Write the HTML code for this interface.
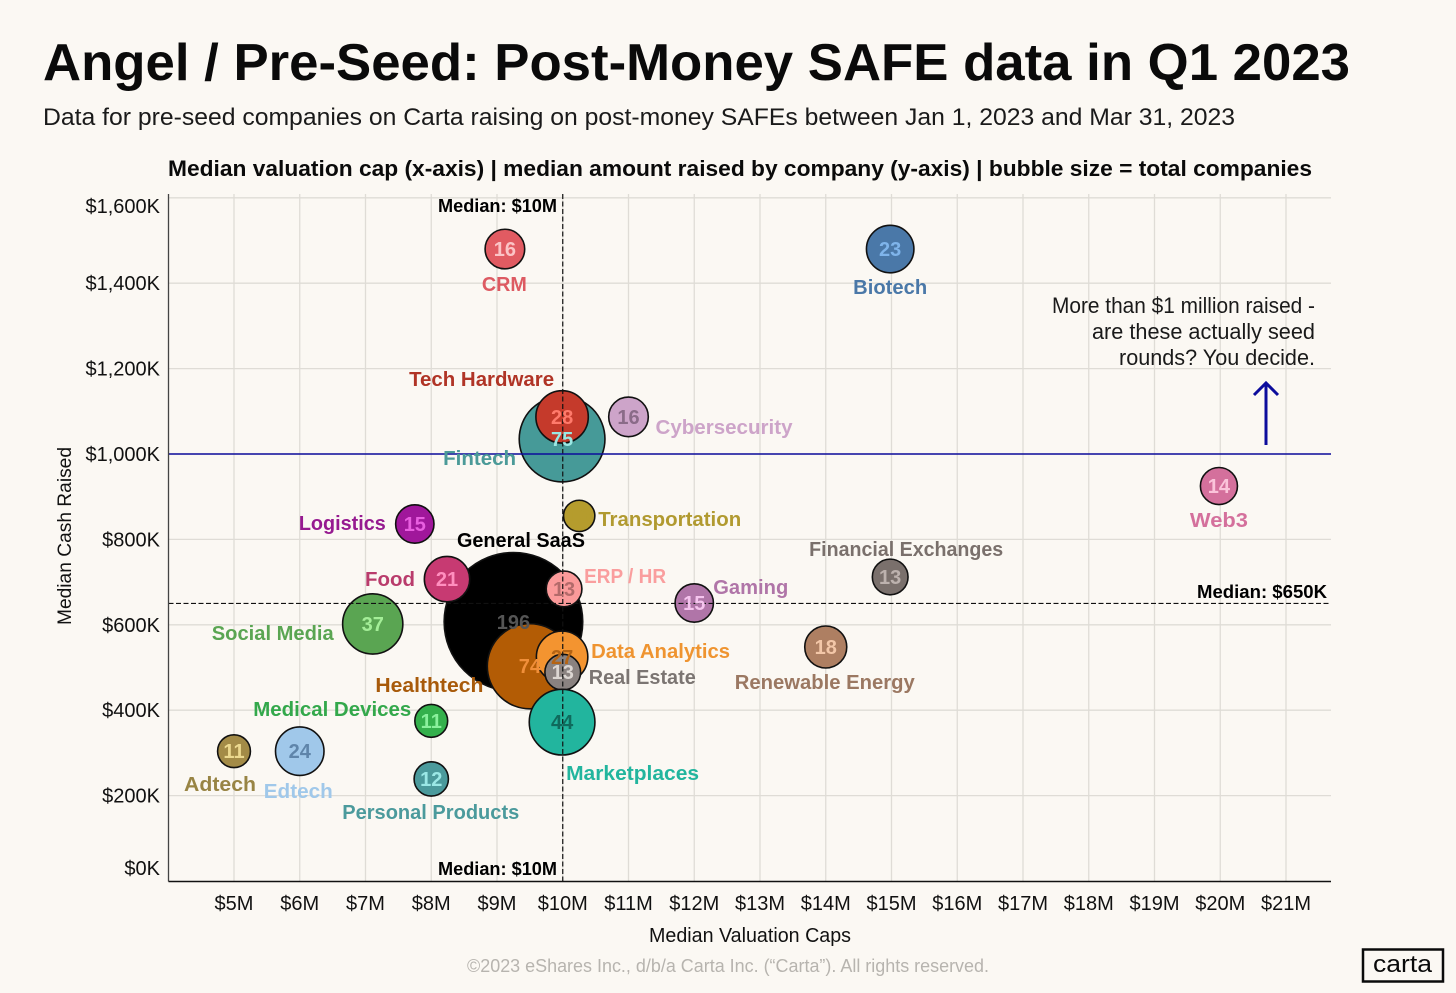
<!DOCTYPE html>
<html lang="en">
<head>
<meta charset="utf-8">
<title>Angel / Pre-Seed: Post-Money SAFE data in Q1 2023</title>
<style>
  html, body { margin: 0; padding: 0; background: #fbf8f3; }
  body { width: 1456px; height: 993px; overflow: hidden; }
  svg { display: block; font-family: "Liberation Sans", sans-serif; }
</style>
</head>
<body>
<svg id="chart" width="1456" height="993" viewBox="0 0 1456 993" xmlns="http://www.w3.org/2000/svg">
  <rect x="0" y="0" width="1456" height="993" fill="#fbf8f3"/>
  <text x="43" y="80" font-size="52" font-weight="700" fill="#0a0a0a" textLength="1307" lengthAdjust="spacingAndGlyphs">Angel / Pre-Seed: Post-Money SAFE data in Q1 2023</text>
  <text x="43" y="125" font-size="24" fill="#1a1a1a" textLength="1192" lengthAdjust="spacingAndGlyphs">Data for pre-seed companies on Carta raising on post-money SAFEs between Jan 1, 2023 and Mar 31, 2023</text>
  <text x="168" y="176" font-size="22" font-weight="700" fill="#0a0a0a" textLength="1144" lengthAdjust="spacingAndGlyphs">Median valuation cap (x-axis) | median amount raised by company (y-axis) | bubble size = total companies</text>

  <g id="grid"></g>
  <g id="marks"></g>
  <g id="refs"></g>
  <g id="counts"></g>
  <g id="labels"></g>
  <g id="axes"></g>

  <text x="649" y="942" font-size="20" fill="#111" textLength="202" lengthAdjust="spacingAndGlyphs">Median Valuation Caps</text>
  <text transform="translate(71 625) rotate(-90)" font-size="19" fill="#111" textLength="178" lengthAdjust="spacingAndGlyphs">Median Cash Raised</text>

  <text x="438" y="212" font-size="18" font-weight="700" fill="#000" textLength="119" lengthAdjust="spacingAndGlyphs">Median: $10M</text>
  <text x="438" y="875" font-size="18" font-weight="700" fill="#000" textLength="119" lengthAdjust="spacingAndGlyphs">Median: $10M</text>
  <text x="1197" y="598" font-size="18" font-weight="700" fill="#000" textLength="130" lengthAdjust="spacingAndGlyphs">Median: $650K</text>

  <g font-size="22" fill="#1a1a1a">
    <text x="1052" y="313" textLength="263" lengthAdjust="spacingAndGlyphs">More than $1 million raised -</text>
    <text x="1092" y="339" textLength="223" lengthAdjust="spacingAndGlyphs">are these actually seed</text>
    <text x="1119" y="365" textLength="196" lengthAdjust="spacingAndGlyphs">rounds? You decide.</text>
  </g>
  <g fill="none" stroke="#0c0c9c" stroke-width="3">
    <line x1="1266" y1="445" x2="1266" y2="384"/>
    <polyline points="1254,395 1266,383 1278,395"/>
  </g>

  <text x="467" y="972" font-size="18" fill="#b7b4af" textLength="522" lengthAdjust="spacingAndGlyphs">©2023 eShares Inc., d/b/a Carta Inc. (“Carta”). All rights reserved.</text>
  <g>
    <rect x="1363" y="949.5" width="80" height="32" fill="none" stroke="#0a0a0a" stroke-width="2.5"/>
    <text x="1373" y="972" font-size="24" fill="#0a0a0a" textLength="59" lengthAdjust="spacingAndGlyphs">carta</text>
  </g>
</svg>

<script>
// ---- Chart data ----
const categories = ["Adtech", "Edtech", "Personal Products", "Medical Devices", "Social Media", "Logistics", "CRM", "Biotech", "Fintech", "Tech Hardware", "Cybersecurity", "Transportation", "Web3", "Financial Exchanges", "Gaming", "Renewable Energy", "General SaaS", "Food", "ERP / HR", "Healthtech", "Data Analytics", "Real Estate", "Marketplaces"];
const valuationCaps = [5, 6, 8, 8, 7.11, 7.75, 9.12, 14.98, 9.99, 9.99, 11, 10.25, 19.98, 14.98, 12, 14, 9.25, 8.24, 10.02, 9.5, 9.99, 10, 9.99];
const cashRaised = [304, 304, 239, 375, 602, 836, 1480, 1480, 1035, 1087, 1087, 855, 925, 712, 651, 548, 607, 707, 684, 503, 525, 489, 372];
const companyCounts = [11, 24, 12, 11, 37, 15, 16, 23, 75, 28, 16, 10, 14, 13, 15, 18, 196, 21, 13, 74, 27, 13, 44];
const xTickValues = [5, 6, 7, 8, 9, 10, 11, 12, 13, 14, 15, 16, 17, 18, 19, 20, 21];
const xTickLabels = ["$5M", "$6M", "$7M", "$8M", "$9M", "$10M", "$11M", "$12M", "$13M", "$14M", "$15M", "$16M", "$17M", "$18M", "$19M", "$20M", "$21M"];
const yTickValues = [0, 200, 400, 600, 800, 1000, 1200, 1400, 1600];
const yTickLabels = ["$0K", "$200K", "$400K", "$600K", "$800K", "$1,000K", "$1,200K", "$1,400K", "$1,600K"];
const medianValuation = 10;
const medianCash = 650;
const thresholdCash = 1000;

// ---- Style and layout (keyed by category) ----
const seriesStyle = {
  "Adtech": ["#a38b47", "#ecd98f", "#988444"],
  "Edtech": ["#a0c8ea", "#5f85aa", "#a0c8ea"],
  "Personal Products": ["#4b9a9c", "#9be8e6", "#4b9a9c"],
  "Medical Devices": ["#34b04c", "#8af09c", "#33a84b"],
  "Social Media": ["#5aa552", "#a4ee98", "#5aa552"],
  "Logistics": ["#a0179b", "#e85fe0", "#961a90"],
  "CRM": ["#e15b62", "#fbc4c6", "#dd5a62"],
  "Biotech": ["#4a78a8", "#7fb4ea", "#4a78a8"],
  "Fintech": ["#469a98", "#9be8e4", "#4b9a98"],
  "Tech Hardware": ["#c53a2b", "#ff7a6b", "#b03426"],
  "Cybersecurity": ["#cda4c9", "#8a6b88", "#cda4c9"],
  "Transportation": ["#b59c2d", "#b59c2d", "#b19a30"],
  "Web3": ["#d4709c", "#fbc4da", "#d4709c"],
  "Financial Exchanges": ["#7a706c", "#bdb2ae", "#7a706c"],
  "Gaming": ["#b075a8", "#f5c4ee", "#b075a8"],
  "Renewable Energy": ["#ae7f62", "#f3c7a8", "#9b7862"],
  "General SaaS": ["#000000", "#555555", "#000000"],
  "Food": ["#c73a72", "#ff8fbf", "#b93c6c"],
  "ERP / HR": ["#fb9a9a", "#b36a6a", "#fa9e9e"],
  "Healthtech": ["#b35c05", "#f08f3a", "#a85a0a"],
  "Data Analytics": ["#f39430", "#b56414", "#ef9430"],
  "Real Estate": ["#8a8280", "#dcd6d2", "#7b7572"],
  "Marketplaces": ["#22b59e", "#0f6a5c", "#22b59e"]
};
const labelLayout = {
  "Adtech": [-50, 40, 72],
  "Edtech": [-36, 47, 69],
  "Personal Products": [-89, 40, 177],
  "Medical Devices": [-178, -5, 158],
  "Social Media": [-161, 16, 122],
  "Logistics": [-116, 6, 87],
  "CRM": [-23, 42, 45],
  "Biotech": [-37, 45, 74],
  "Fintech": [-119, 26, 73],
  "Tech Hardware": [-153, -31, 145],
  "Cybersecurity": [27, 17, 137],
  "Transportation": [19, 10, 143],
  "Web3": [-29, 41, 58],
  "Financial Exchanges": [-81, -21, 194],
  "Gaming": [19, -9, 75],
  "Renewable Energy": [-91, 42, 180],
  "General SaaS": [-56.5, -75, 128],
  "Food": [-82, 7, 50],
  "ERP / HR": [20, -6, 82],
  "Healthtech": [-154.5, 26, 108],
  "Data Analytics": [29, 1, 139],
  "Real Estate": [26, 12, 107],
  "Marketplaces": [4, 58, 133]
};

// ---- Axis functions ----
const xScale = function (v) { return 234 + 65.75 * (v - 5); };
const yScale = function (v) { return 881 - 0.427 * v; };
const rScale = function (n) { return 4.95 * Math.sqrt(n); };
const slug = function (s) { return s.toLowerCase().replace(/[^a-z0-9]+/g, '-').replace(/^-|-$/g, ''); };

const NS = 'http://www.w3.org/2000/svg';
function make(parent, tag, attrs, text) {
  const el = document.createElementNS(NS, tag);
  Object.keys(attrs).forEach(function (k) { el.setAttribute(k, attrs[k]); });
  if (text !== undefined) el.textContent = text;
  parent.appendChild(el);
  return el;
}

const plotLeft = 168.5, plotRight = 1331, plotTop = 194, plotBottom = 881.5;
const grid = document.getElementById('grid');
const axes = document.getElementById('axes');
const marks = document.getElementById('marks');
const refs = document.getElementById('refs');
const counts = document.getElementById('counts');
const labels = document.getElementById('labels');

// Grid and tick labels
xTickValues.forEach(function (v, i) {
  const line = make(grid, 'line', { x1: xScale(v), x2: xScale(v), y1: plotTop, y2: plotBottom, stroke: '#dfdcd6', 'stroke-width': 1.3 });
  
  
  const t = make(axes, 'text', { x: xScale(v), y: 910, 'font-size': 20, fill: '#111', 'text-anchor': 'middle' }, xTickLabels[i]);
  
  
});
yTickValues.forEach(function (v, i) {
  if (v > 0) {
    const line = make(grid, 'line', { x1: plotLeft, x2: plotRight, y1: yScale(v), y2: yScale(v), stroke: '#dfdcd6', 'stroke-width': 1.3 });
    
    
  }
  const nudge = i === 0 ? -13 : (i === yTickValues.length - 1 ? 8 : 0);
  const t = make(axes, 'text', { x: 160, y: yScale(v) + 7 + nudge, 'font-size': 20, fill: '#111', 'text-anchor': 'end' }, yTickLabels[i]);
  
  
});

// Axis lines
const yAxisLine = make(axes, 'line', { x1: plotLeft, x2: plotLeft, y1: plotTop, y2: plotBottom, stroke: '#444', 'stroke-width': 1.3 });


const xAxisLine = make(axes, 'line', { x1: plotLeft, x2: plotRight, y1: plotBottom, y2: plotBottom, stroke: '#111', 'stroke-width': 1.5 });



// Bubbles, counts and labels
categories.forEach(function (name, i) {
  const cx = xScale(valuationCaps[i]);
  const cy = yScale(cashRaised[i]);
  const style = seriesStyle[name];
  const layout = labelLayout[name];
  const key = slug(name);

  const c = make(marks, 'circle', { cx: cx, cy: cy, r: rScale(companyCounts[i]), fill: style[0], stroke: '#111', 'stroke-width': 1.6 });
  
  

  const n = make(counts, 'text', { x: cx, y: cy + 7, 'font-size': 20, 'font-weight': 700, fill: style[1], 'text-anchor': 'middle' }, companyCounts[i]);
  
  

  const l = make(labels, 'text', { x: cx + layout[0], y: cy + layout[1], 'font-size': 20, 'font-weight': 700, fill: style[2], textLength: layout[2], lengthAdjust: 'spacingAndGlyphs' }, name);
  
  
});

// Reference lines
const medianXLine = make(refs, 'line', { x1: xScale(medianValuation), x2: xScale(medianValuation), y1: plotTop, y2: plotBottom, stroke: '#111', 'stroke-width': 1.2, 'stroke-dasharray': '5 2.5' });


const medianYLine = make(refs, 'line', { x1: plotLeft, x2: plotRight, y1: yScale(medianCash), y2: yScale(medianCash), stroke: '#111', 'stroke-width': 1.2, 'stroke-dasharray': '5 2.5' });


const thresholdLine = make(refs, 'line', { x1: plotLeft, x2: plotRight, y1: yScale(thresholdCash), y2: yScale(thresholdCash), stroke: '#0c0c9c', 'stroke-width': 1.5 });


</script>
</body>
</html>
